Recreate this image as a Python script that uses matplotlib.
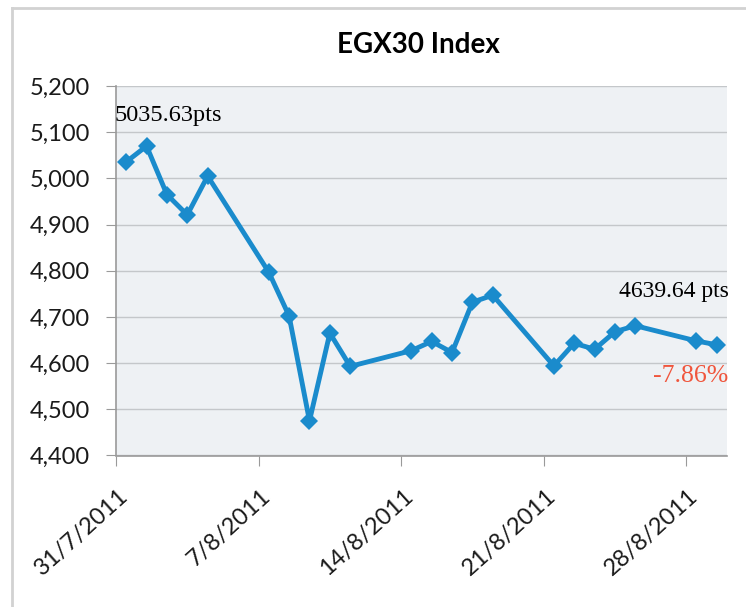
import matplotlib
matplotlib.use("Agg")
import matplotlib.pyplot as plt
import matplotlib.dates as mdates
import matplotlib.transforms as mtransforms
from matplotlib.ticker import FuncFormatter, MultipleLocator
from matplotlib.lines import Line2D
import datetime as dt

# ---- data ----
dates = ["2011-07-31", "2011-08-01", "2011-08-02", "2011-08-03", "2011-08-04",
         "2011-08-07", "2011-08-08", "2011-08-09", "2011-08-10", "2011-08-11",
         "2011-08-14", "2011-08-15", "2011-08-16", "2011-08-17", "2011-08-18",
         "2011-08-21", "2011-08-22", "2011-08-23", "2011-08-24", "2011-08-25",
         "2011-08-28", "2011-08-29"]
values = [5035.63, 5070, 4965, 4921, 5005,
          4797, 4702, 4475, 4665, 4593,
          4627, 4647, 4623, 4732, 4747,
          4594, 4643, 4630, 4668, 4681,
          4648, 4639.64]
tick_dates = ["2011-07-31", "2011-08-07", "2011-08-14", "2011-08-21", "2011-08-28"]
tick_labels = ["31/7/2011", "7/8/2011", "14/8/2011", "21/8/2011", "28/8/2011"]
title = "EGX30 Index"
start_label = "5035.63pts"
end_label = "4639.64 pts"
change_label = "-7.86%"

# ---- figure ----
plt.rcParams['font.family'] = ['Lato', 'DejaVu Sans']
fig = plt.figure(figsize=(7.46, 6.07), dpi=100)
fig.patch.set_facecolor("white")
ax = fig.add_axes([116/746, 1-455.5/607, (727-116)/746, (455.5-86)/607])
ax.set_facecolor("#eef1f4")

to_num = lambda s: mdates.date2num(dt.datetime.strptime(s, "%Y-%m-%d"))
x = [to_num(d) + 0.5 for d in dates]
ax.plot(x, values, color="#1a8bcc", lw=3.5, marker="D", markersize=9.5,
        markeredgewidth=0, zorder=3, clip_on=False)

ax.set_xlim(to_num("2011-07-31"), to_num("2011-08-30"))
ax.set_ylim(4400, 5200)
ax.yaxis.set_major_locator(MultipleLocator(100))
ax.yaxis.set_major_formatter(FuncFormatter(lambda v, p: f"{int(v):,}"))
ax.grid(axis="y", color="#c4c7ca", lw=1.0)
ax.set_axisbelow(True)

tick_x = [to_num(d) for d in tick_dates]
ax.set_xticks(tick_x)
ax.set_xticklabels([])
# rotated date labels, placed like Excel
lab_tr = mtransforms.blended_transform_factory(ax.transData, ax.transAxes) + \
    mtransforms.ScaledTranslation(2/100, -30/100, fig.dpi_scale_trans)
for tx, tl in zip(tick_x, tick_labels):
    ax.text(tx, 0, tl, transform=lab_tr, rotation=42, ha="right", va="top",
            rotation_mode="anchor", fontsize=17, color="#1a1a1a", clip_on=False)

for s in ["top", "right"]:
    ax.spines[s].set_visible(False)
for s in ["left", "bottom"]:
    ax.spines[s].set_color("#9a9a9a")
    ax.spines[s].set_linewidth(1.2)
ax.tick_params(axis="both", length=7, color="#9a9a9a", labelsize=17,
               labelcolor="#1a1a1a")
ax.tick_params(axis="y", pad=12)

fig.text(0.5605, 1-45/607, title, ha="center", va="center", fontsize=20,
         fontweight="bold", color="black")

serif = ["Liberation Serif", "DejaVu Serif"]
ax.text(-0.002, (607-116-151.5)/369.5, start_label, transform=ax.transAxes,
        ha="left", va="center", fontsize=17.5, family=serif, color="black")
ax.text(0.913, (607-292-151.5)/369.5, end_label, transform=ax.transAxes,
        ha="center", va="center", fontsize=17, family=serif, color="black")
ax.text(0.94, (607-376-151.5)/369.5, change_label, transform=ax.transAxes,
        ha="center", va="center", fontsize=18.5, family=serif, color="#f0553c")

# outer chart border (top and left)
fig.add_artist(Line2D([12/746, 1.0], [1-7.5/607, 1-7.5/607], color="#d2d2d2", lw=2))
fig.add_artist(Line2D([12/746, 12/746], [0.0, 1-7.5/607], color="#d2d2d2", lw=2))

fig.savefig("out.png", dpi=100)
